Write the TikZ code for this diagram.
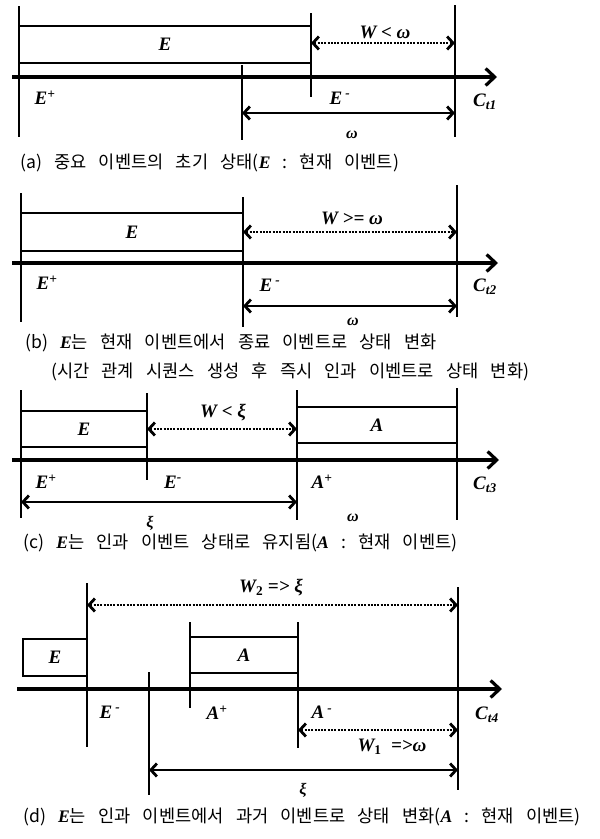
\documentclass[tikz,border=0pt]{standalone}
\usepackage{fontspec}
\setmainfont{Liberation Serif}
\newfontfamily\krfont[WordSpace=3.1]{Noto Sans CJK KR}
\usetikzlibrary{arrows.meta}
\newcommand\capE{{\rmfamily\bfseries\itshape E}}
\newcommand\capA{{\rmfamily\bfseries\itshape A}}
\tikzset{
  axisline/.style={line width=4pt, -{Straight Barb[length=9pt,width=17pt,line width=3.2pt]}},
  tickline/.style={line width=1.5pt},
  evbox/.style={draw, line width=2.6pt, inner sep=0pt, font=\fontsize{19}{22}\selectfont\bfseries\itshape},
  dimarrow/.style={line width=2.4pt, {Straight Barb[length=6pt,width=13pt,line width=2.8pt]}-{Straight Barb[length=6pt,width=13pt,line width=2.8pt]}},
  dotarrow/.style={dimarrow, dash pattern=on 2pt off 1.3pt},
  lab/.style={font=\fontsize{19}{22}\selectfont\bfseries\itshape, inner sep=0pt},
  smalllab/.style={font=\fontsize{16}{19}\selectfont\bfseries\itshape, inner sep=0pt},
  captext/.style={font=\fontsize{17.6}{20}\selectfont\krfont, anchor=west, inner sep=0pt},
}
\begin{document}
\begin{tikzpicture}[x=1pt,y=-1pt]
\useasboundingbox (0,0) rectangle (600,839);
\fill[white] (0,0) rectangle (600,839);

% ---------------- panel (a)
\node[evbox, minimum width=292pt, minimum height=37pt] (aE) at (165,44.5) {E};
\coordinate (aL1) at (19,6);   \coordinate (aL2) at (19,137);
\coordinate (aM1) at (242,65); \coordinate (aM2) at (242,140);
\coordinate (aB1) at (311,13); \coordinate (aB2) at (311,97);
\coordinate (aR1) at (455,5);  \coordinate (aR2) at (455,137);
\coordinate (aX1) at (12,77);  \coordinate (aX2) at (497,77);
\coordinate (aW1) at (311,43); \coordinate (aW2) at (455,43);
\coordinate (aO1) at (242,113);\coordinate (aO2) at (455,113);
\draw[tickline] (aL1) -- (aL2);
\draw[tickline] (aM1) -- (aM2);
\draw[tickline] (aB1) -- (aB2);
\draw[tickline] (aR1) -- (aR2);
\draw[axisline] (aX1) -- (aX2);
\draw[dotarrow] (aW1) -- (aW2);
\draw[dimarrow] (aO1) -- (aO2);
\node[lab] (aWl) at (385,32) {W < ω};
\node[lab] (aEp) at (45,98) {E\textsuperscript{+}};
\node[lab] (aEm) at (340,98) {E\,\textsuperscript{-}};
\node[lab] (aC) at (485,102) {C\textsubscript{t1}};
\node[smalllab] (aOl) at (352,135) {ω};
\node[captext] (aCap) at (20,163) {(a) 중요 이벤트의 초기 상태(\capE\ : 현재 이벤트)};

% ---------------- panel (b)
\node[evbox, minimum width=222pt, minimum height=38pt] (bE) at (132,232) {E};
\coordinate (bL1) at (21,193);  \coordinate (bL2) at (21,322);
\coordinate (bM1) at (243,197); \coordinate (bM2) at (243,327);
\coordinate (bR1) at (457,185); \coordinate (bR2) at (457,317);
\coordinate (bX1) at (12,263);  \coordinate (bX2) at (498,263);
\coordinate (bW1) at (243,232); \coordinate (bW2) at (457,232);
\coordinate (bO1) at (243,306); \coordinate (bO2) at (457,306);
\draw[tickline] (bL1) -- (bL2);
\draw[tickline] (bM1) -- (bM2);
\draw[tickline] (bR1) -- (bR2);
\draw[axisline] (bX1) -- (bX2);
\draw[dotarrow] (bW1) -- (bW2);
\draw[dimarrow] (bO1) -- (bO2);
\node[lab] (bWl) at (352,218) {W >= ω};
\node[lab] (bEp) at (47,283) {E\textsuperscript{+}};
\node[lab] (bEm) at (270,285) {E\,\textsuperscript{-}};
\node[lab] (bC) at (485,287) {C\textsubscript{t2}};
\node[smalllab] (bOl) at (353,322) {ω};
\node[captext] (bCap1) at (25,343) {(b) \capE 는 현재 이벤트에서 종료 이벤트로 상태 변화};
\node[captext] (bCap2) at (51,372) {(시간 관계 시퀀스 생성 후 즉시 인과 이벤트로 상태 변화)};

% ---------------- panel (c)
\node[evbox, minimum width=126pt, minimum height=36pt] (cE) at (84,429) {E};
\node[evbox, minimum width=160pt, minimum height=36pt] (cA) at (377,425) {A};
\coordinate (cL1) at (21,390);  \coordinate (cL2) at (21,518);
\coordinate (cM1) at (147,393); \coordinate (cM2) at (147,480);
\coordinate (cN1) at (297,390); \coordinate (cN2) at (297,520);
\coordinate (cR1) at (457,388); \coordinate (cR2) at (457,520);
\coordinate (cX1) at (12,460);  \coordinate (cX2) at (499,460);
\coordinate (cW1) at (147,429); \coordinate (cW2) at (297,429);
\coordinate (cO1) at (21,502);  \coordinate (cO2) at (297,502);
\draw[tickline] (cL1) -- (cL2);
\draw[tickline] (cM1) -- (cM2);
\draw[tickline] (cN1) -- (cN2);
\draw[tickline] (cR1) -- (cR2);
\draw[axisline] (cX1) -- (cX2);
\draw[dotarrow] (cW1) -- (cW2);
\draw[dimarrow] (cO1) -- (cO2);
\node[lab] (cWl) at (223,413) {W < ξ};
\node[lab] (cEp) at (46,482) {E\textsuperscript{+}};
\node[lab] (cEm) at (173,482) {E\textsuperscript{-}};
\node[lab] (cAp) at (322,482) {A\textsuperscript{+}};
\node[lab] (cC) at (485,485) {C\textsubscript{t3}};
\node[smalllab] (cXl) at (150,523) {ξ};
\node[smalllab] (cOl) at (353,518) {ω};
\node[captext] (cCap) at (23,543) {(c) \capE 는 인과 이벤트 상태로 유지됨(\capA\ : 현재 이벤트)};

% ---------------- panel (d)
\node[evbox, minimum width=64pt, minimum height=37pt] (dE) at (55,657.5) {E};
\node[evbox, minimum width=108pt, minimum height=36pt] (dA) at (244,655) {A};
\coordinate (dK1) at (87,583);  \coordinate (dK2) at (87,747);
\coordinate (dL1) at (149,672); \coordinate (dL2) at (149,795);
\coordinate (dM1) at (190,622); \coordinate (dM2) at (190,708);
\coordinate (dN1) at (298,622); \coordinate (dN2) at (298,748);
\coordinate (dR1) at (458,587); \coordinate (dR2) at (458,790);
\coordinate (dX1) at (17,689);  \coordinate (dX2) at (502,689);
\coordinate (dW1) at (87,605);  \coordinate (dW2) at (458,605);
\coordinate (dV1) at (298,730); \coordinate (dV2) at (458,730);
\coordinate (dO1) at (149,770); \coordinate (dO2) at (458,770);
\draw[tickline] (dK1) -- (dK2);
\draw[tickline] (dL1) -- (dL2);
\draw[tickline] (dM1) -- (dM2);
\draw[tickline] (dN1) -- (dN2);
\draw[tickline] (dR1) -- (dR2);
\draw[axisline] (dX1) -- (dX2);
\draw[dotarrow] (dW1) -- (dW2);
\draw[dotarrow] (dV1) -- (dV2);
\draw[dimarrow] (dO1) -- (dO2);
\node[lab] (dW2l) at (271,588) {W\textsubscript{\upshape 2} => ξ};
\node[lab] (dW1l) at (392,747) {W\textsubscript{\upshape 1}\ \ =>ω};
\node[lab] (dEm) at (110,712) {E\,\textsuperscript{-}};
\node[lab] (dAp) at (217,713) {A\textsuperscript{+}};
\node[lab] (dAm) at (322,712) {A\,\textsuperscript{-}};
\node[lab] (dC) at (487,715) {C\textsubscript{t4}};
\node[smalllab] (dXl) at (303,790) {ξ};
\node[captext] (dCap) at (23,817) {(d) \capE 는 인과 이벤트에서 과거 이벤트로 상태 변화(\capA\ : 현재 이벤트)};
\end{tikzpicture}
\end{document}
